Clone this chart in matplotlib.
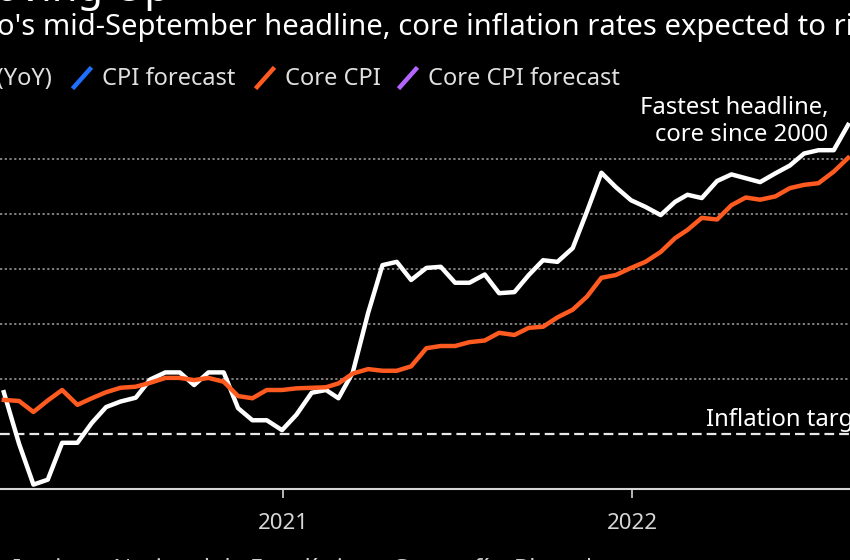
import pandas as pd
import matplotlib
matplotlib.use('Agg')
import matplotlib.pyplot as plt
import matplotlib.dates as mdates
from matplotlib.lines import Line2D

plt.rcParams['font.family'] = ['Noto Sans', 'DejaVu Sans']
plt.rcParams['lines.scale_dashes'] = False

# fortnightly readings: 15th and month end, 1H Mar 2020 .. 1H Aug 2022
months = pd.date_range('2020-03-01', '2022-08-01', freq='MS')
dates = []
for m in months:
    dates.append(m + pd.Timedelta(days=14))
    dates.append(m + pd.offsets.MonthEnd(0))
dates = dates[:-1]

headline = [3.76, 2.82, 2.08, 2.17, 2.84, 2.84, 3.20, 3.49, 3.59, 3.66,
            3.99, 4.12, 4.12, 3.89, 4.12, 4.12, 3.47, 3.25, 3.25, 3.07,
            3.35, 3.75, 3.80, 3.65, 4.12, 5.20, 6.07, 6.13, 5.80, 6.02,
            6.04, 5.75, 5.75, 5.90, 5.56, 5.58, 5.89, 6.16, 6.13, 6.38,
            7.05, 7.75, 7.49, 7.25,
            7.13, 6.98, 7.22, 7.35, 7.29, 7.60, 7.72, 7.65, 7.58, 7.74,
            7.88, 8.10, 8.16, 8.16, 8.62]
core = [3.62, 3.60, 3.40, 3.61, 3.80, 3.53, 3.65, 3.76, 3.84, 3.86,
        3.93, 4.02, 4.02, 3.98, 4.02, 3.95, 3.69, 3.65, 3.80, 3.80,
        3.83, 3.84, 3.85, 3.92, 4.10, 4.18, 4.15, 4.15, 4.23, 4.56,
        4.60, 4.60, 4.67, 4.70, 4.84, 4.80, 4.93, 4.95, 5.12, 5.26,
        5.50, 5.84, 5.89, 6.02,
        6.13, 6.31, 6.56, 6.71, 6.93, 6.90, 7.16, 7.30, 7.26, 7.32,
        7.47, 7.53, 7.56, 7.77, 8.02]

target = 3
grid_levels = [4, 5, 6, 7, 8]
year_ticks = ['2021-01-01', '2022-01-01']
year_labels = ['2021', '2022']

legend_labels = ['CPI (YoY)', 'CPI forecast', 'Core CPI', 'Core CPI forecast']
legend_colors = ['#ffffff', '#1f6fff', '#ff5a1f', '#b565ff']

W, H = 850, 560
fig = plt.figure(figsize=(8.5, 5.6), dpi=100, facecolor='black')
renderer = fig.canvas.get_renderer()


def fx(px):
    return px / W


def fy(py):
    return 1 - py / H


def text_width(s, **kw):
    t = fig.text(0, 0, s, **kw)
    w = t.get_window_extent(renderer).width
    t.remove()
    return w


ax = fig.add_axes([0, fy(489), 1, (489 - 104) / H])
ax.set_facecolor('black')

for g in grid_levels:
    ax.axhline(g, color='#8a8a8a', lw=1.3, linestyle=(0, (1.6, 1.8)), zorder=1)
ax.axhline(target, color='#e8e8e8', lw=1.6, linestyle=(0, (7, 3.6)), zorder=1)

ax.plot(dates, headline, color='white', lw=3.2, zorder=3)
ax.plot(dates, core, color=legend_colors[2], lw=3.2, zorder=4)

ppd = 349 / 365
x21 = mdates.date2num(pd.Timestamp('2021-01-01'))
x22 = mdates.date2num(pd.Timestamp('2022-01-01'))
ax.set_xlim(x21 - 283 / ppd, x22 + 218 / ppd)
ax.set_ylim(2, 9)

ax.set_xticks([mdates.date2num(pd.Timestamp(d)) for d in year_ticks])
ax.set_xticklabels(year_labels)
ax.set_yticks([])
ax.tick_params(axis='x', colors='#d6d6d6', length=6.5, width=1.2, pad=11,
               labelsize=16)
for s in ['top', 'left', 'right']:
    ax.spines[s].set_visible(False)
ax.spines['bottom'].set_color('#d6d6d6')
ax.spines['bottom'].set_linewidth(1.5)

# title (cut off at the top)
fig.text(fx(170), fy(1), 'Moving Up', ha='right', va='baseline',
         fontsize=30, fontweight='bold', color='white')

# subtitle, starts off the left edge
sub_kw = dict(fontsize=21.0, color='white')
sub = "Mexico's mid-September headline, core inflation rates expected to rise"
off = text_width('Mexic', **sub_kw)
fig.text(fx(-3 - off), fy(35), sub, ha='left', va='baseline', **sub_kw)

# legend
leg_kw = dict(fontsize=17, color='#e0e0e0')
slash_x = [None, 74, 257, 400]
w0 = text_width(legend_labels[0], **leg_kw)
slash_x[0] = 53 - w0 - 29
for i, lab in enumerate(legend_labels):
    x0 = slash_x[i]
    fig.add_artist(Line2D([fx(x0), fx(x0 + 16)], [fy(87), fy(69)],
                          color=legend_colors[i], lw=3.2,
                          transform=fig.transFigure))
    fig.text(fx(x0 + 28), fy(85), lab, ha='left', va='baseline', **leg_kw)

# annotations
ann_kw = dict(fontsize=17.2, color='white', ha='right', va='baseline')
fig.text(fx(828), fy(114), 'Fastest headline,', **ann_kw)
fig.text(fx(828), fy(141), 'core since 2000', **ann_kw)
fig.text(fx(706), fy(426), 'Inflation target', ha='left', va='baseline',
         fontsize=17.2, color='white')

# source line, cut off at the bottom
src_kw = dict(fontsize=17, color='#cfcfcf')
off = text_width('Source: ', **src_kw)
fig.text(fx(13 - off), fy(576),
         'Source: Instituto Nacional de Estadística y Geografía, Bloomberg',
         ha='left', va='baseline', **src_kw)

fig.savefig('out.png', dpi=100, facecolor='black')
